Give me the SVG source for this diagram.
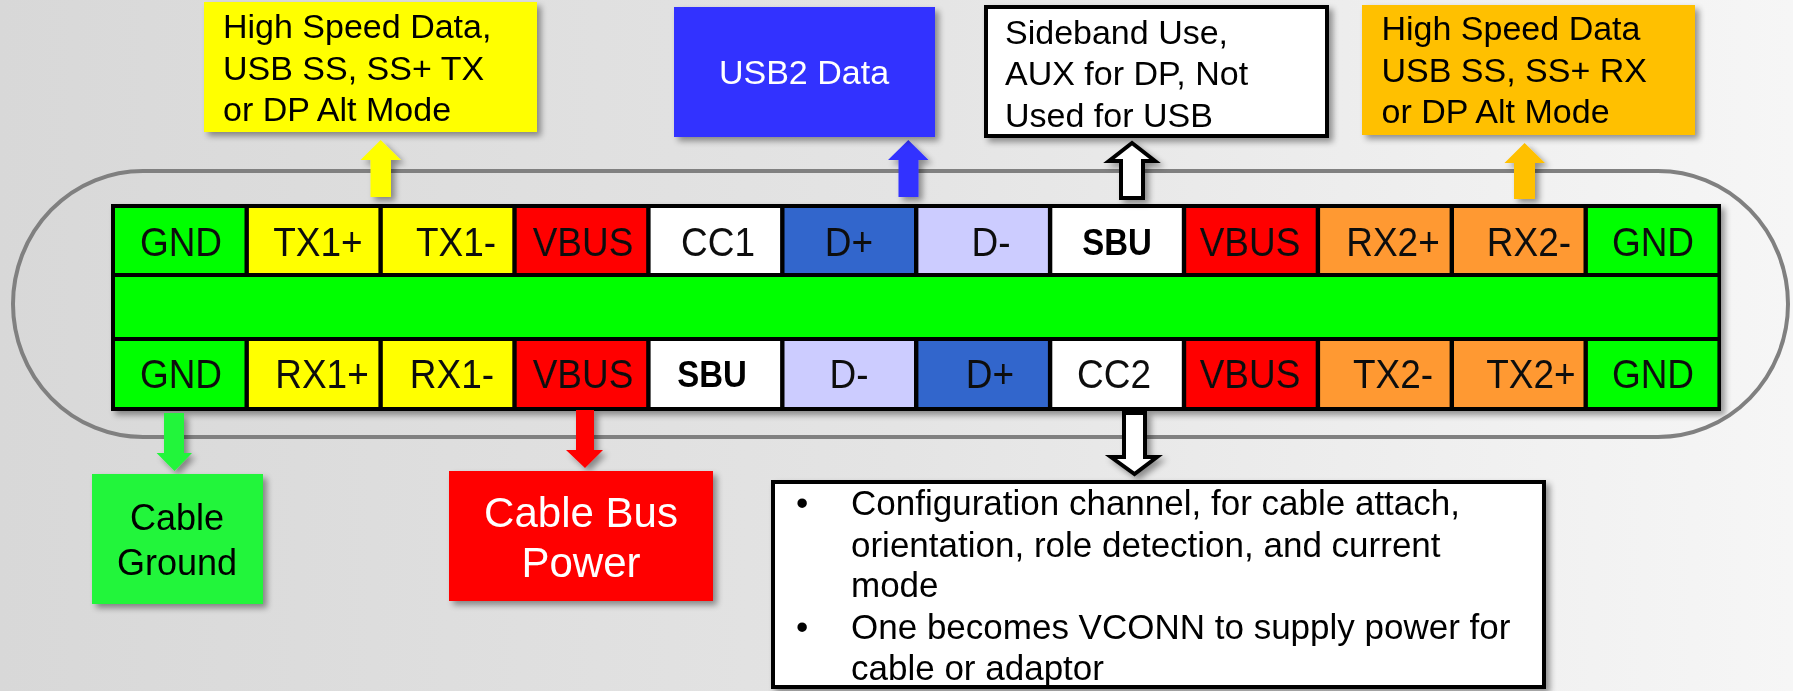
<svg xmlns="http://www.w3.org/2000/svg" width="1793" height="691" viewBox="0 0 1793 691">
<defs>
<linearGradient id="bg" x1="0" y1="0" x2="1" y2="0">
<stop offset="0" stop-color="#d8d8d8"/>
<stop offset="0.5" stop-color="#e4e4e4"/>
<stop offset="1" stop-color="#f6f6f6"/>
</linearGradient>
<filter id="sh" x="-10%" y="-10%" width="130%" height="140%">
<feGaussianBlur in="SourceAlpha" stdDeviation="3"/>
<feOffset dx="4" dy="4" result="b"/>
<feComponentTransfer><feFuncA type="linear" slope="0.4"/></feComponentTransfer>
<feMerge><feMergeNode/><feMergeNode in="SourceGraphic"/></feMerge>
</filter>
<style>
text{font-family:"Liberation Sans",Arial,sans-serif;}
.c{font-size:37px;text-anchor:middle;fill:#111;}
.b{font-size:33px;font-weight:bold;text-anchor:middle;fill:#000;}
.t{font-size:34px;fill:#000;}
.grn{fill:#00ff00;}.yel{fill:#ffff00;}.red{fill:#ff0000;}.wht{fill:#ffffff;}
.dp{fill:#3366cc;}.dm{fill:#ccccff;}.org{fill:#ff9933;}
</style>
</defs>
<rect x="0" y="0" width="1793" height="691" fill="url(#bg)"/>
<rect id="shell" x="13" y="171" width="1775" height="266" rx="130" ry="133" fill="none" stroke="#808080" stroke-width="4"/>

<g id="connector" filter="url(#sh)">
<rect x="111" y="204" width="1610" height="207" fill="#000"/>
<rect class="grn" x="115" y="277" width="1602.5" height="60"/>
<g id="toprow">
<rect class="grn" x="115" y="208" width="129.5" height="65"/>
<rect class="yel" x="248.9" y="208" width="129.5" height="65"/>
<rect class="yel" x="382.8" y="208" width="129.5" height="65"/>
<rect class="red" x="516.7" y="208" width="129.5" height="65"/>
<rect class="wht" x="650.6" y="208" width="129.5" height="65"/>
<rect class="dp" x="784.5" y="208" width="129.5" height="65"/>
<rect class="dm" x="918.4" y="208" width="129.5" height="65"/>
<rect class="wht" x="1052.3" y="208" width="129.5" height="65"/>
<rect class="red" x="1186.2" y="208" width="129.5" height="65"/>
<rect class="org" x="1320.1" y="208" width="129.5" height="65"/>
<rect class="org" x="1454" y="208" width="129.5" height="65"/>
<rect class="grn" x="1587.9" y="208" width="129.5" height="65"/>
<g transform="translate(0,256) scale(1,1.1)">
<text class="c" x="181" y="0">GND</text>
<text class="c" x="318" y="0">TX1+</text>
<text class="c" x="456" y="0">TX1-</text>
<text class="c" x="583" y="0">VBUS</text>
<text class="c" x="718" y="0">CC1</text>
<text class="c" x="849" y="0">D+</text>
<text class="c" x="991" y="0">D-</text>
<text class="b" x="1117" y="-0.5">SBU</text>
<text class="c" x="1250" y="0">VBUS</text>
<text class="c" x="1393" y="0">RX2+</text>
<text class="c" x="1529" y="0">RX2-</text>
<text class="c" x="1653" y="0">GND</text>
</g>
</g>
<g id="bottomrow">
<rect class="grn" x="115" y="341" width="129.5" height="66"/>
<rect class="yel" x="248.9" y="341" width="129.5" height="66"/>
<rect class="yel" x="382.8" y="341" width="129.5" height="66"/>
<rect class="red" x="516.7" y="341" width="129.5" height="66"/>
<rect class="wht" x="650.6" y="341" width="129.5" height="66"/>
<rect class="dm" x="784.5" y="341" width="129.5" height="66"/>
<rect class="dp" x="918.4" y="341" width="129.5" height="66"/>
<rect class="wht" x="1052.3" y="341" width="129.5" height="66"/>
<rect class="red" x="1186.2" y="341" width="129.5" height="66"/>
<rect class="org" x="1320.1" y="341" width="129.5" height="66"/>
<rect class="org" x="1454" y="341" width="129.5" height="66"/>
<rect class="grn" x="1587.9" y="341" width="129.5" height="66"/>
<g transform="translate(0,387.5) scale(1,1.1)">
<text class="c" x="181" y="0">GND</text>
<text class="c" x="322" y="0">RX1+</text>
<text class="c" x="452" y="0">RX1-</text>
<text class="c" x="583" y="0">VBUS</text>
<text class="b" x="712" y="-0.5">SBU</text>
<text class="c" x="849" y="0">D-</text>
<text class="c" x="990" y="0">D+</text>
<text class="c" x="1114" y="0">CC2</text>
<text class="c" x="1250" y="0">VBUS</text>
<text class="c" x="1393" y="0">TX2-</text>
<text class="c" x="1531" y="0">TX2+</text>
<text class="c" x="1653" y="0">GND</text>
</g>
</g>
</g>

<g id="connectors" filter="url(#sh)">
<polygon points="370.5,197 370.5,160 360.5,160 380.7,140 401,160 391,160 391,197" fill="#ffff00"/>
<polygon points="898.5,197 898.5,160 888,160 908.3,140 928.5,160 918.5,160 918.5,197" fill="#3333ff"/>
<polygon points="1514,199 1514,163 1504.5,163 1524.6,143 1545,163 1535,163 1535,199" fill="#ffc000"/>
<polygon points="1121,198 1121,161 1109,161 1132,143 1155,161 1143,161 1143,198" fill="#fff" stroke="#000" stroke-width="4"/>
<polygon points="164,413 184,413 184,453 192,453 174.5,471 156.6,453 164,453" fill="#22f53a"/>
<polygon points="576,410 594,410 594,450 603,450 585,468 566,450 576,450" fill="#ff0000"/>
<polygon points="1124,413 1145,413 1145,457 1157,457 1134.5,474 1111,457 1124,457" fill="#fff" stroke="#000" stroke-width="4"/>
</g>

<g id="hs-tx" filter="url(#sh)">
<rect x="204" y="2" width="333" height="130" fill="#ffff00"/>
<text class="t" x="223" y="38">High Speed Data,</text>
<text class="t" x="223" y="80">USB SS, SS+ TX</text>
<text class="t" x="223" y="121">or DP Alt Mode</text>
</g>
<g id="usb2" filter="url(#sh)">
<rect x="674" y="7" width="261" height="130" fill="#3333ff"/>
<text class="t" x="804" y="84" text-anchor="middle" style="fill:#fff">USB2 Data</text>
</g>
<g id="sideband" filter="url(#sh)">
<rect x="986" y="7" width="341" height="129" fill="#fff" stroke="#000" stroke-width="4"/>
<text class="t" x="1005" y="43.5">Sideband Use,</text>
<text class="t" x="1005" y="85">AUX for DP, Not</text>
<text class="t" x="1005" y="127">Used for USB</text>
</g>
<g id="hs-rx" filter="url(#sh)">
<rect x="1362" y="5" width="333" height="130" fill="#ffc000"/>
<text class="t" x="1381.5" y="40">High Speed Data</text>
<text class="t" x="1381.5" y="82">USB SS, SS+ RX</text>
<text class="t" x="1381.5" y="123">or DP Alt Mode</text>
</g>
<g id="ground" filter="url(#sh)">
<rect x="92" y="474" width="171" height="130" fill="#22f53a"/>
<text x="177" y="530" font-size="36" text-anchor="middle" fill="#000">Cable</text>
<text x="177" y="575" font-size="36" text-anchor="middle" fill="#000">Ground</text>
</g>
<g id="power" filter="url(#sh)">
<rect x="449" y="471" width="264" height="130" fill="#ff0000"/>
<text x="581" y="527" font-size="42" text-anchor="middle" fill="#fff">Cable Bus</text>
<text x="581" y="577" font-size="42" text-anchor="middle" fill="#fff">Power</text>
</g>
<g id="config" filter="url(#sh)">
<rect x="773" y="482" width="771" height="205" fill="#fff" stroke="#000" stroke-width="4"/>
<g font-size="35" fill="#000">
<text x="796" y="515">•</text>
<text x="851" y="515">Configuration channel, for cable attach,</text>
<text x="851" y="556.5">orientation, role detection, and current</text>
<text x="851" y="597">mode</text>
<text x="796" y="639">•</text>
<text x="851" y="639">One becomes VCONN to supply power for</text>
<text x="851" y="680">cable or adaptor</text>
</g>
</g>
</svg>
